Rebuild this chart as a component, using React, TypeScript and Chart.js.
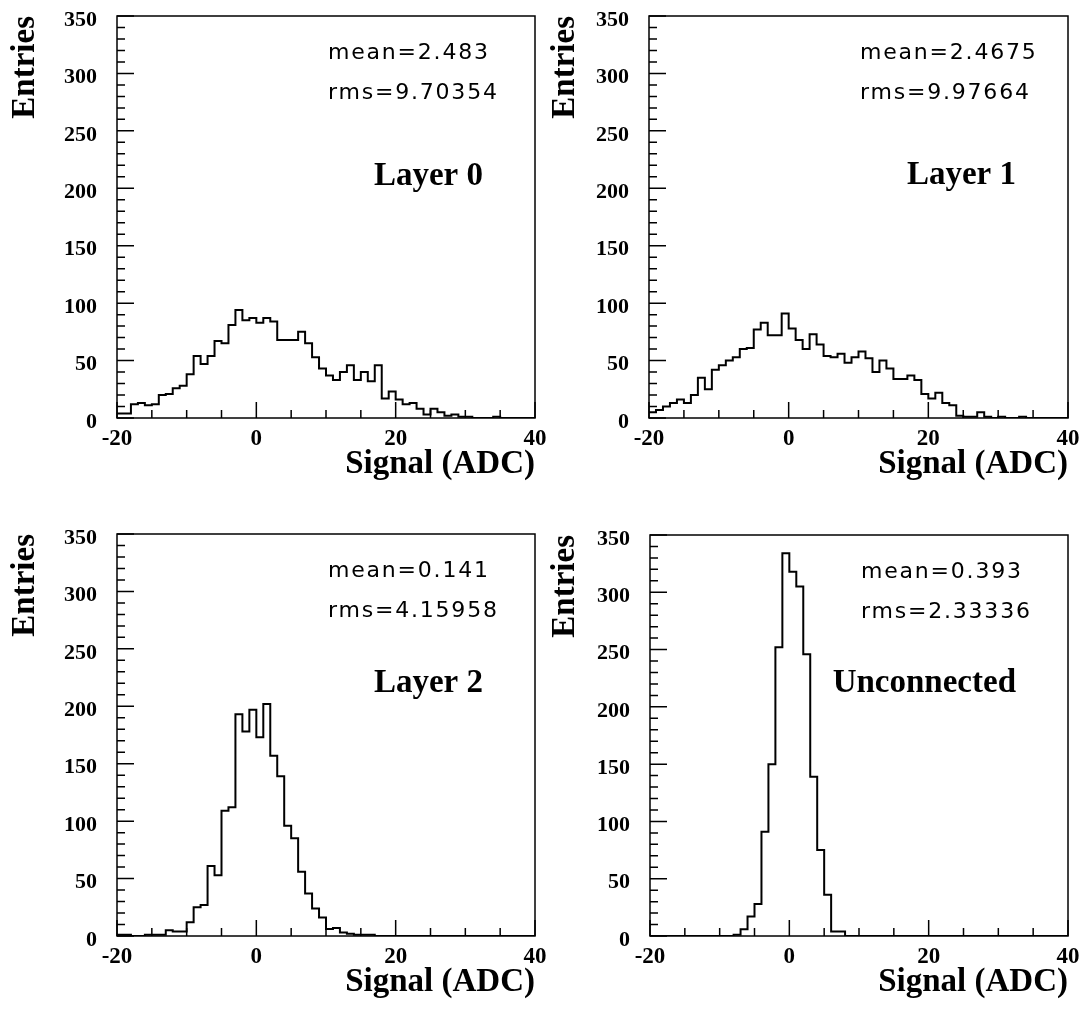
import React, { useEffect, useRef } from "react";
import { Chart, registerables } from "chart.js";

Chart.register(...registerables);

// ---- Data ----
const binLowEdges = [
  -20, -19, -18, -17, -16, -15, -14, -13, -12, -11,
  -10, -9, -8, -7, -6, -5, -4, -3, -2, -1,
  0, 1, 2, 3, 4, 5, 6, 7, 8, 9,
  10, 11, 12, 13, 14, 15, 16, 17, 18, 19,
  20, 21, 22, 23, 24, 25, 26, 27, 28, 29,
  30, 31, 32, 33, 34, 35, 36, 37, 38, 39,
];
const xAxisEnd = 40;
const xTickLabels = [-20, 0, 20, 40];
const yTickLabels = [0, 50, 100, 150, 200, 250, 300, 350];

const layer0Counts = [
  4, 4, 12, 13, 11, 12, 20, 21, 26, 28,
  38, 54, 47, 54, 67, 65, 81, 94, 85, 87,
  83, 87, 84, 68, 68, 68, 75, 65, 53, 43,
  37, 33, 40, 46, 33, 40, 32, 46, 17, 23,
  16, 12, 13, 8, 3, 8, 5, 2, 3, 1,
  1, 0, 0, 0, 1, 0, 0, 0, 0, 0,
];
const layer1Counts = [
  5, 7, 10, 13, 16, 13, 20, 35, 25, 42,
  46, 50, 53, 60, 61, 77, 83, 72, 72, 91,
  78, 68, 60, 73, 64, 54, 53, 56, 48, 53,
  58, 52, 40, 50, 43, 34, 34, 37, 33, 21,
  17, 22, 13, 11, 2, 1, 1, 5, 1, 0,
  1, 0, 0, 1, 0, 0, 0, 0, 0, 0,
];
const layer2Counts = [
  1, 1, 0, 0, 1, 1, 1, 5, 4, 4,
  12, 25, 27, 61, 53, 109, 112, 193, 178, 197,
  173, 202, 157, 139, 96, 85, 56, 37, 24, 16,
  6, 7, 3, 2, 1, 1, 1, 0, 0, 0,
  0, 0, 0, 0, 0, 0, 0, 0, 0, 0,
  0, 0, 0, 0, 0, 0, 0, 0, 0, 0,
];
const unconnectedCounts = [
  0, 0, 0, 0, 0, 0, 0, 0, 0, 0,
  0, 0, 1, 6, 17, 28, 91, 150, 252, 334,
  318, 305, 246, 139, 75, 36, 4, 4, 0, 0,
  0, 0, 0, 0, 0, 0, 0, 0, 0, 0,
  0, 0, 0, 0, 0, 0, 0, 0, 0, 0,
  0, 0, 0, 0, 0, 0, 0, 0, 0, 0,
];

const panelNames = ["Layer 0", "Layer 1", "Layer 2", "Unconnected"];
const meanValues = ["2.483", "2.4675", "0.141", "0.393"];
const rmsValues = ["9.70354", "9.97664", "4.15958", "2.33336"];
const allCounts = [layer0Counts, layer1Counts, layer2Counts, unconnectedCounts];

const xTitle = "Signal (ADC)";
const yTitle = "Entries";

// ---- Layout (positions only) ----
type Layout = {
  left: number; top: number; w: number; h: number;
  pl: number; pt: number; pr: number; pb: number;
  yTitlePad: number; labelBaseline: number;
};
const layouts: Layout[] = [
  { left: 0, top: 0, w: 560, h: 507, pl: 117, pt: 16, pr: 535, pb: 418, yTitlePad: 6, labelBaseline: 169 },
  { left: 544, top: 0, w: 544, h: 507, pl: 105, pt: 16, pr: 524, pb: 418, yTitlePad: 2, labelBaseline: 168 },
  { left: 0, top: 507, w: 560, h: 508, pl: 117, pt: 27, pr: 535, pb: 429, yTitlePad: 6, labelBaseline: 157.5 },
  { left: 544, top: 507, w: 544, h: 508, pl: 106, pt: 28, pr: 524, pb: 429, yTitlePad: 2, labelBaseline: 157 },
];

const SERIF = "'Liberation Serif', 'Times New Roman', serif";

function HistPanel({ idx }: { idx: number }) {
  const ref = useRef<HTMLCanvasElement>(null);
  const L = layouts[idx];

  useEffect(() => {
    const counts = allCounts[idx];
    const pts = binLowEdges.map((x, i) => ({ x, y: counts[i] }));
    pts.push({ x: xAxisEnd, y: counts[counts.length - 1] });

    const decor = {
      id: "decor" + idx,
      afterDatasetsDraw(chart: any) {
        const { ctx, chartArea: a, scales } = chart;
        const sx = scales.x;
        const sy = scales.y;
        ctx.save();
        ctx.strokeStyle = "#000";
        ctx.lineWidth = 1.5;
        ctx.strokeRect(a.left, a.top, a.right - a.left, a.bottom - a.top);
        ctx.beginPath();
        for (let v = -20; v <= 40; v += 5) {
          const px = sx.getPixelForValue(v);
          const len = v % 20 === 0 ? 16 : 8;
          ctx.moveTo(px, a.bottom);
          ctx.lineTo(px, a.bottom - len);
        }
        for (let v = 0; v <= 350; v += 10) {
          const py = sy.getPixelForValue(v);
          const len = v % 50 === 0 ? 17 : 8;
          ctx.moveTo(a.left, py);
          ctx.lineTo(a.left + len, py);
        }
        ctx.stroke();

        ctx.fillStyle = "#000";
        ctx.textAlign = "left";
        ctx.textBaseline = "alphabetic";
        ctx.font = "22px 'DejaVu Sans', sans-serif";
        (ctx as any).letterSpacing = "1.8px";
        ctx.fillText("mean=" + meanValues[idx], a.left + 211, a.top + 42.5);
        ctx.fillText("rms=" + rmsValues[idx], a.left + 211, a.top + 82.5);
        (ctx as any).letterSpacing = "0px";

        ctx.font = "bold 33px " + SERIF;
        ctx.textAlign = "right";
        ctx.fillText(panelNames[idx], a.right - 52, a.top + L.labelBaseline);
        ctx.restore();
      },
    };

    const titleFont = { family: SERIF, size: 33, weight: "bold" as const };
    const xTitlePadBottom = L.h - 19.8 - L.pb - 46;

    const chart = new Chart(ref.current!, {
      type: "line",
      data: {
        datasets: [
          {
            data: pts,
            stepped: "before",
            borderColor: "#000",
            borderWidth: 2,
            pointRadius: 0,
            fill: false,
          } as any,
        ],
      },
      options: {
        responsive: false,
        animation: false,
        events: [],
        parsing: false as any,
        layout: { padding: { left: 0, top: L.pt, right: L.w - L.pr, bottom: 0 } },
        plugins: { legend: { display: false }, tooltip: { enabled: false } },
        scales: {
          x: {
            type: "linear",
            min: -20,
            max: 40,
            grid: { display: false, drawTicks: false },
            border: { display: false },
            afterBuildTicks: (s: any) => {
              s.ticks = xTickLabels.map((v) => ({ value: v }));
            },
            afterFit: (s: any) => {
              s.height = L.h - L.pb;
              s.paddingLeft = 0;
              s.paddingRight = 0;
            },
            ticks: {
              color: "#000",
              font: { family: SERIF, size: 23, weight: "bold" },
              padding: 7,
              maxRotation: 0,
              autoSkip: false,
              callback: (v: any) => String(v),
            },
            title: {
              display: true,
              text: xTitle,
              align: "end",
              color: "#000",
              font: titleFont,
              padding: { top: 0, bottom: xTitlePadBottom },
            },
          },
          y: {
            type: "linear",
            min: 0,
            max: 350,
            grid: { display: false, drawTicks: false },
            border: { display: false },
            afterBuildTicks: (s: any) => {
              s.ticks = yTickLabels.map((v) => ({ value: v }));
            },
            afterFit: (s: any) => {
              s.width = L.pl;
              s.paddingTop = 0;
              s.paddingBottom = 0;
            },
            ticks: {
              color: "#000",
              font: { family: SERIF, size: 22, weight: "bold" },
              padding: 20,
              autoSkip: false,
              labelOffset: (c: any) => (c.tick && c.tick.value === 0 ? -3 : 4),
              callback: (v: any) => String(v),
            },
            title: {
              display: true,
              text: yTitle,
              align: "end",
              color: "#000",
              font: titleFont,
              padding: { top: L.yTitlePad, bottom: 0 },
            },
          },
        },
      } as any,
      plugins: [decor],
    });
    return () => chart.destroy();
  }, [idx]);

  return (
    <canvas
      ref={ref}
      width={L.w}
      height={L.h}
      style={{ position: "absolute", left: L.left, top: L.top, width: L.w, height: L.h }}
    />
  );
}

export default function App() {
  return (
    <div
      style={{
        position: "absolute",
        left: 0,
        top: 0,
        width: 1088,
        height: 1015,
        background: "#fff",
        overflow: "hidden",
      }}
    >
      {[0, 1, 2, 3].map((i) => (
        <HistPanel key={i} idx={i} />
      ))}
    </div>
  );
}
